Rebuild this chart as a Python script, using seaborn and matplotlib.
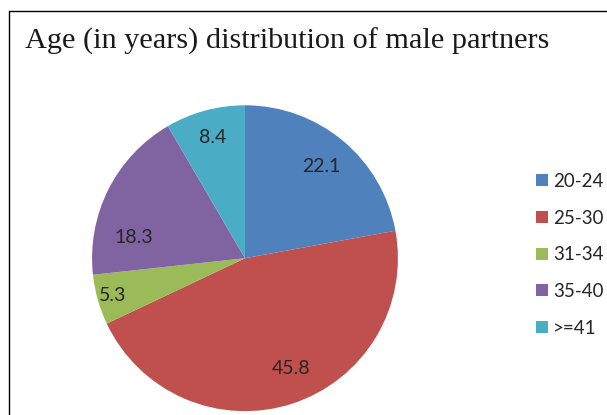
import seaborn as sns
import matplotlib.pyplot as plt
from matplotlib.lines import Line2D
import numpy as np

# Data
age_groups = ['20-24', '25-30', '31-34', '35-40', '>=41']
percentages = [22.1, 45.8, 5.3, 18.3, 8.4]
title_text = 'Age (in years) distribution of male partners'

# Settings
sns.set_theme(style="white")
plt.rcParams['font.family'] = ['Lato', 'DejaVu Sans']
colors = ['#4F81BD', '#C0504D', '#9BBB59', '#8064A2', '#4BACC6']

fig = plt.figure(figsize=(6.07, 4.15), dpi=100)
ax = fig.add_axes([0.1516, 0.0093, 0.504, 0.737])

wedges, _ = ax.pie(percentages, colors=colors, startangle=90, counterclock=False,
                   radius=1, wedgeprops=dict(linewidth=0))
ax.set_xlim(-1, 1)
ax.set_ylim(-1, 1)
ax.set_aspect('equal')

# Data labels placed roughly like Excel's "best fit"
label_dist = [0.78, 0.78, 0.9, 0.74, 0.82]
angle_shift = [0, 5, 0, 16, 0]
for w, val, d, s in zip(wedges, percentages, label_dist, angle_shift):
    ang = np.deg2rad((w.theta1 + w.theta2) / 2 + s)
    ax.text(d * np.cos(ang), d * np.sin(ang), f'{val:.1f}', ha='center', va='center',
            fontsize=14, color='#262626')

fig.legend(wedges, age_groups, loc='center left', bbox_to_anchor=(0.868, 0.386),
           frameon=False, fontsize=13.5, labelspacing=1.05, handlelength=0.6,
           handleheight=0.6, handletextpad=0.3, borderpad=0, labelcolor='#262626')

fig.text(25 / 607, 1 - 41 / 415, title_text, ha='left', va='center',
         fontsize=21.8, family='Liberation Serif', color='#1a1a1a')

# Chart border (left and top edges visible)
fig.add_artist(Line2D([9 / 607, 9 / 607], [0, 1 - 11 / 415], transform=fig.transFigure,
                      color='black', linewidth=1))
fig.add_artist(Line2D([9 / 607, 1], [1 - 11 / 415, 1 - 11 / 415], transform=fig.transFigure,
                      color='black', linewidth=1))

plt.savefig('out.png', dpi=100)
plt.close()
